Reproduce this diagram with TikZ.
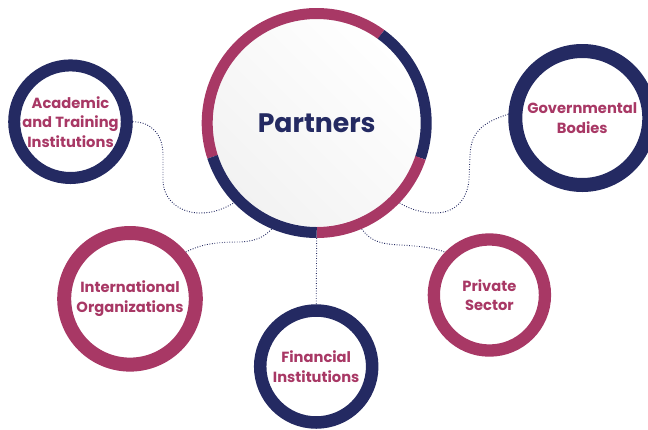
\documentclass[tikz,border=0pt]{standalone}
\usepackage{fontspec}
\setmainfont{Poppins}
\definecolor{navy}{HTML}{242A62}
\definecolor{rose}{HTML}{A83865}
\begin{document}
\begin{tikzpicture}[x=1pt,y=-1pt,
  ring/.style={circle, draw, inner sep=-10pt, align=center,
    font=\bfseries\fontsize{14.7}{19.5}\selectfont, text=rose},
  link/.style={navy, line width=0.9pt, dash pattern=on 0.9pt off 1.6pt},
  seg/.style={line width=11pt}]
\useasboundingbox (0,0) rectangle (648,429);

% outer partner circles
\node[ring, draw=navy, line width=12pt, minimum size=112.6pt] (acad) at (70.5,121.7) {Academic\\and Training\\Institutions};
\node[ring, draw=navy, line width=14pt, minimum size=134pt] (gov) at (582.3,118) {Governmental\\Bodies};
\node[ring, draw=rose, line width=14pt, minimum size=131.6pt] (intl) at (130,298.8) {International\\Organizations};
\node[ring, draw=navy, line width=12.5pt, minimum size=112pt] (fin) at (316.2,366.5) {Financial\\Institutions};
\node[ring, draw=rose, line width=12.3pt, minimum size=111.1pt] (priv) at (489.4,295) {Private\\Sector};

% central circle
\shade[top color=white, bottom color=black!5, shading angle=-45] (316.7,122) circle[radius=104.5pt];
\node[circle, minimum size=219pt, inner sep=0pt, outer sep=5.5pt,
  font=\bfseries\fontsize{26.7}{32}\selectfont, text=navy] (p) at (316.7,123) {Partners};

% connectors
\draw[link] (acad.0) .. controls (152,122) and (163,135) .. (163,155) -- (163,180)
  .. controls (163,200) and (180,213) .. (200,213) .. controls (215,213) and (225,208) .. (p.-136);
\draw[link] (gov.177) .. controls (485,122) and (471,130) .. (470,155) -- (469,180)
  .. controls (467,200) and (455,213) .. (435,213) .. controls (420,213) and (408,208) .. (p.-44);
\draw[link] (intl.40) .. controls (200,245) and (212,242) .. (240,242)
  .. controls (258,241) and (265,236) .. (p.-113);
\draw[link] (p.-90) -- (fin.90);
\draw[link] (p.-67) .. controls (370,240) and (378,244) .. (400,245)
  .. controls (420,246) and (435,248) .. (priv.136);

% ring segments of the central circle
\draw[seg, rose] (p.center) ++(54:109.5pt) arc[start angle=54, end angle=198, radius=109.5pt];
\draw[seg, navy] (p.center) ++(-18.6:109.5pt) arc[start angle=-18.6, end angle=54, radius=109.5pt];
\draw[seg, rose] (p.center) ++(-90:109.5pt) arc[start angle=-90, end angle=-18.6, radius=109.5pt];
\draw[seg, navy] (p.center) ++(-162:109.5pt) arc[start angle=-162, end angle=-90, radius=109.5pt];
\end{tikzpicture}
\end{document}
